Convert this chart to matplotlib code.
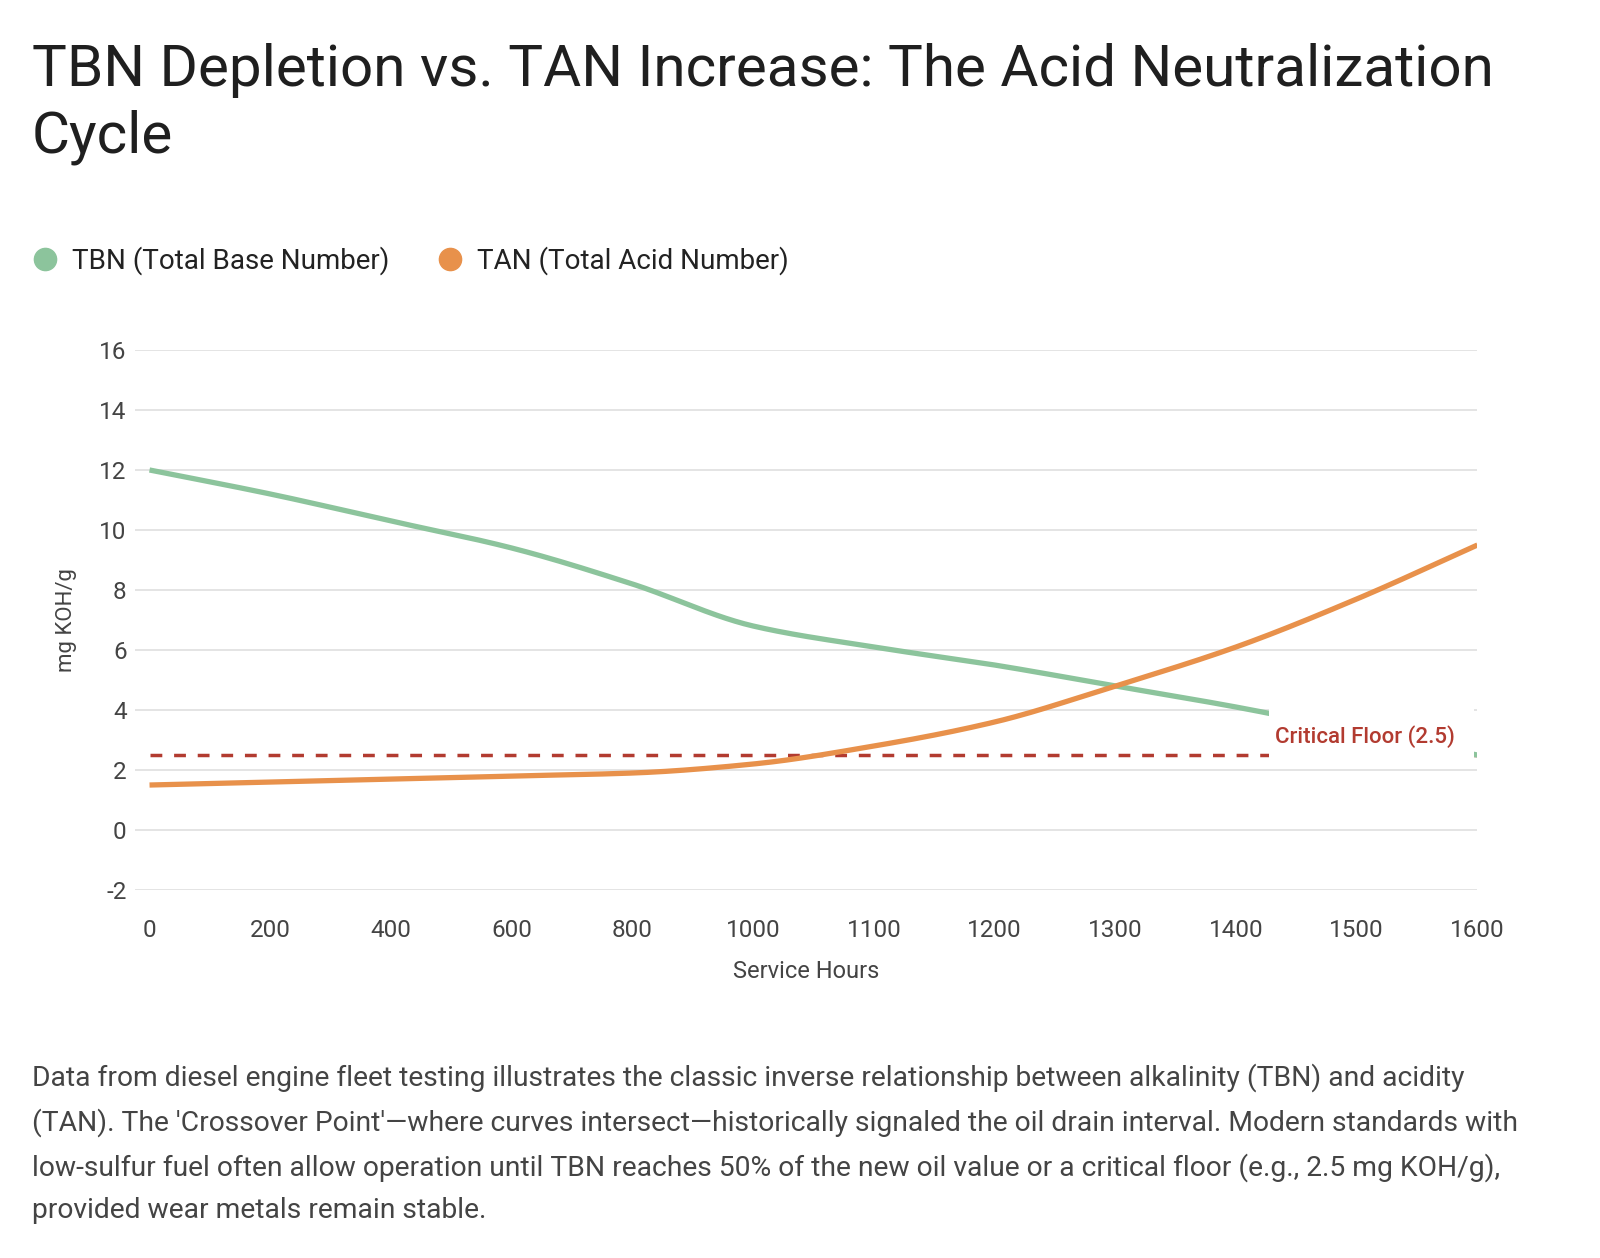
import numpy as np
import matplotlib
matplotlib.use("Agg")
from matplotlib import pyplot as plt
from matplotlib.lines import Line2D
from matplotlib.patches import Rectangle

plt.rcParams['font.family'] = ['Roboto', 'DejaVu Sans']
plt.rcParams['axes.unicode_minus'] = False

hours = ['0', '200', '400', '600', '800', '1000', '1100', '1200', '1300', '1400', '1500', '1600']
tbn = [12.0, 11.2, 10.3, 9.4, 8.2, 6.8, 6.1, 5.5, 4.8, 4.1, 3.3, 2.5]
tan = [1.5, 1.6, 1.7, 1.8, 1.9, 2.2, 2.8, 3.6, 4.8, 6.1, 7.7, 9.5]
critical_floor = 2.5
floor_label = 'Critical Floor (2.5)'

title = 'TBN Depletion vs. TAN Increase: The Acid Neutralization\nCycle'
caption = ("Data from diesel engine fleet testing illustrates the classic inverse relationship between alkalinity (TBN) and acidity\n"
           "(TAN). The 'Crossover Point'\u2014where curves intersect\u2014historically signaled the oil drain interval. Modern standards with\n"
           "low-sulfur fuel often allow operation until TBN reaches 50% of the new oil value or a critical floor (e.g., 2.5 mg KOH/g),\n"
           "provided wear metals remain stable.")

GREEN = '#8cc49c'
ORANGE = '#e8914b'
RED = '#b23b30'
TXT = '#444444'


def monotone(x, y, n=40):
    # Fritsch-Carlson monotone cubic, just for drawing smooth lines
    x = np.asarray(x, float)
    y = np.asarray(y, float)
    h = np.diff(x)
    d = np.diff(y) / h
    m = np.zeros_like(y)
    m[0], m[-1] = d[0], d[-1]
    for i in range(1, len(y) - 1):
        if d[i - 1] * d[i] <= 0:
            m[i] = 0
        else:
            m[i] = 2 / (1 / d[i - 1] + 1 / d[i])
    xs, ys = [], []
    for i in range(len(h)):
        t = np.linspace(0, 1, n, endpoint=False)
        h00 = 2 * t**3 - 3 * t**2 + 1
        h10 = t**3 - 2 * t**2 + t
        h01 = -2 * t**3 + 3 * t**2
        h11 = t**3 - t**2
        xs.append(x[i] + t * h[i])
        ys.append(h00 * y[i] + h10 * h[i] * m[i] + h01 * y[i + 1] + h11 * h[i] * m[i + 1])
    xs.append([x[-1]])
    ys.append([y[-1]])
    return np.concatenate(xs), np.concatenate(ys)


fig = plt.figure(figsize=(16, 12.58), dpi=100)
ax = fig.add_axes([0.0844, 0.2925, 0.839, 0.4293])

idx = np.arange(len(hours))
sx, sy = monotone(idx, tbn)
ax.plot(sx, sy, color=GREEN, lw=3.8, solid_capstyle='butt', zorder=3)
sx, sy = monotone(idx, tan)
ax.plot(sx, sy, color=ORANGE, lw=3.8, solid_capstyle='butt', zorder=3)
ax.plot(idx, [critical_floor] * len(idx), color=RED, lw=2.5, dashes=(3.4, 3.4), zorder=2)

# label on the floor line, white box hides what is under it
lx, ly = 10.07, 3.13
ax.add_patch(Rectangle((lx - 0.8, ly - 0.9), 1.7, 1.85, facecolor='white', edgecolor='none', zorder=4))
ax.text(lx, ly, floor_label, color=RED, fontsize=16, fontweight='medium', ha='center', va='center', zorder=5)

ax.set_xlim(-0.12, 11)
ax.set_ylim(-2, 16)
ax.set_yticks(range(-2, 17, 2))
ax.set_xticks(idx)
ax.set_xticklabels(hours)
ax.grid(axis='y', color='#e2e2e2', lw=1.3)
ax.set_axisbelow(True)
for s in ax.spines.values():
    s.set_visible(False)
ax.tick_params(length=0, labelsize=17.5, colors=TXT)
ax.tick_params(axis='x', pad=21)
ax.tick_params(axis='y', pad=6)
ax.set_xlabel('Service Hours', fontsize=17, color=TXT, labelpad=13)
ax.set_ylabel('mg KOH/g', fontsize=16, color=TXT, labelpad=16)

fig.text(0.02, 0.966, title, fontsize=42, color='#1f1f1f', va='top', ha='left', linespacing=1.28)

handles = [Line2D([], [], marker='o', ls='none', color=GREEN, markersize=16),
           Line2D([], [], marker='o', ls='none', color=ORANGE, markersize=16)]
fig.legend(handles, ['TBN (Total Base Number)', 'TAN (Total Acid Number)'], loc='center left',
           bbox_to_anchor=(0.004, 0.7925), ncol=2, frameon=False, fontsize=20,
           handlelength=1.0, handletextpad=0.45, columnspacing=1.7, labelcolor='#222222')

fig.text(0.02, 0.155, caption, fontsize=20.3, color=TXT, va='top', ha='left', linespacing=1.72)

fig.savefig('out.png', dpi=100, facecolor='white')
